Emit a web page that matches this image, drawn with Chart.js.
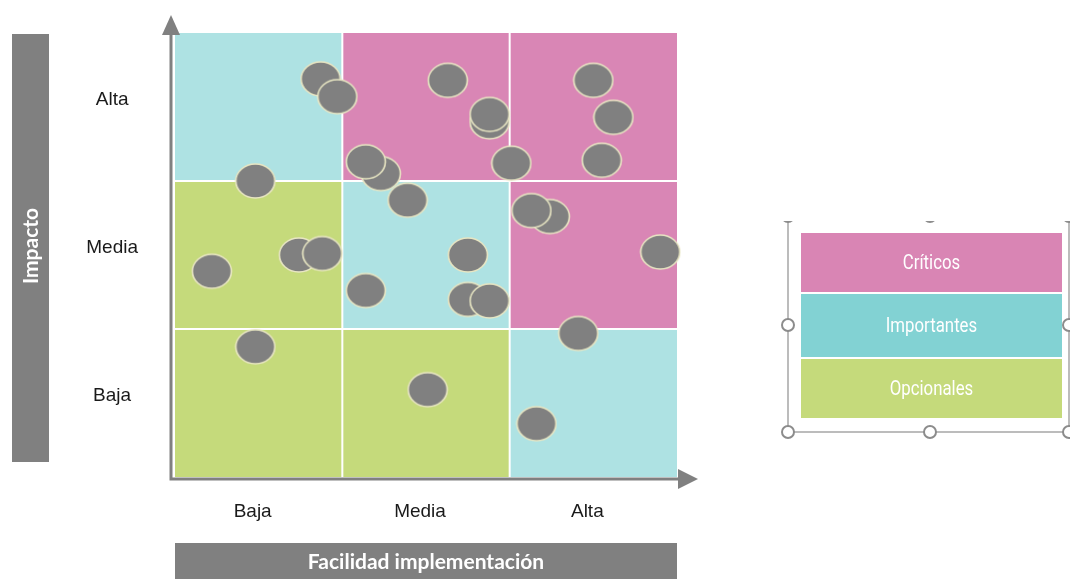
<!DOCTYPE html>
<html>
<head>
<meta charset="utf-8">
<script src="https://cdn.jsdelivr.net/npm/chart.js@4.4.1/dist/chart.umd.min.js"></script>
<style>
html, body { margin: 0; padding: 0; background: #fff; }
#wrap { width: 1070px; height: 579px; }
</style>
</head>
<body>
<div id="wrap"><canvas id="chartMatriz" width="1070" height="579"></canvas></div>
<script>
var niveles = ['Baja', 'Media', 'Alta'],
    categorias = ['Críticos', 'Importantes', 'Opcionales'],
    // fila 0 = impacto Baja ... fila 2 = impacto Alta, columnas = facilidad Baja / Media / Alta
    celdas = [
        ['Opcionales', 'Opcionales', 'Importantes'],
        ['Opcionales', 'Importantes', 'Críticos'],
        ['Importantes', 'Críticos', 'Críticos']
    ],
    // posicion de cada iniciativa (0-3 en cada eje)
    facilidad = [0.87, 0.97, 1.63, 2.50, 1.88, 1.88, 2.62, 2.55, 2.01, 1.23, 1.14, 0.48, 1.39, 2.24, 2.13,
                 2.90, 1.75, 0.22, 0.74, 0.88, 1.14, 1.75, 1.88, 2.41, 0.48, 1.51, 2.16],
    impacto = [2.69, 2.57, 2.68, 2.68, 2.40, 2.45, 2.43, 2.14, 2.12, 2.05, 2.13, 2.00, 1.87, 1.76, 1.80,
               1.52, 1.50, 1.39, 1.50, 1.51, 1.26, 1.20, 1.19, 0.97, 0.88, 0.59, 0.36];

var colorCelda = { 'Críticos': '#d986b5', 'Importantes': '#aee2e3', 'Opcionales': '#c5da7b' },
    colorLeyenda = { 'Críticos': '#d985b4', 'Importantes': '#82d2d3', 'Opcionales': '#c5da7b' },
    gris = '#808080';

// la burbuja es una elipse, se pasa como imagen al pointStyle
function crearBurbuja() {
    var c = document.createElement('canvas');
    c.width = 42;
    c.height = 38;
    var g = c.getContext('2d');
    g.beginPath();
    g.ellipse(21, 19, 19.5, 17, 0, 0, Math.PI * 2);
    g.fillStyle = gris;
    g.fill();
    g.lineWidth = 1.6;
    g.strokeStyle = '#e8e6c3';
    g.stroke();
    return c;
}

var pluginMatriz = {
    id: 'matriz',
    beforeDatasetsDraw: function (chart) {
        var ctx = chart.ctx, sx = chart.scales.x, sy = chart.scales.y;
        ctx.save();
        celdas.forEach(function (fila, r) {
            fila.forEach(function (cat, c) {
                var x0 = sx.getPixelForValue(c), x1 = sx.getPixelForValue(c + 1),
                    y0 = sy.getPixelForValue(r + 1), y1 = sy.getPixelForValue(r);
                ctx.fillStyle = colorCelda[cat];
                ctx.fillRect(x0, y0, x1 - x0, y1 - y0);
            });
        });
        // separaciones blancas
        ctx.strokeStyle = '#ffffff';
        ctx.lineWidth = 2;
        for (var i = 1; i < niveles.length; i++) {
            ctx.beginPath();
            ctx.moveTo(sx.getPixelForValue(i), sy.getPixelForValue(3));
            ctx.lineTo(sx.getPixelForValue(i), sy.getPixelForValue(0));
            ctx.moveTo(sx.getPixelForValue(0), sy.getPixelForValue(i));
            ctx.lineTo(sx.getPixelForValue(3), sy.getPixelForValue(i));
            ctx.stroke();
        }
        ctx.restore();
    },
    afterDraw: function (chart) {
        var ctx = chart.ctx, a = chart.chartArea;
        ctx.save();

        // ejes con flecha
        var ejeX = a.left - 4, ejeY = a.bottom + 2;
        ctx.strokeStyle = gris;
        ctx.fillStyle = gris;
        ctx.lineWidth = 3;
        ctx.beginPath();
        ctx.moveTo(ejeX, ejeY + 1.5);
        ctx.lineTo(ejeX, 30);
        ctx.moveTo(ejeX - 1.5, ejeY);
        ctx.lineTo(a.right + 2, ejeY);
        ctx.stroke();
        ctx.beginPath();
        ctx.moveTo(ejeX, 15);
        ctx.lineTo(ejeX - 9, 35);
        ctx.lineTo(ejeX + 9, 35);
        ctx.closePath();
        ctx.fill();
        ctx.beginPath();
        ctx.moveTo(a.right + 21, ejeY);
        ctx.lineTo(a.right + 1, ejeY - 10);
        ctx.lineTo(a.right + 1, ejeY + 10);
        ctx.closePath();
        ctx.fill();

        // titulos en barras grises
        ctx.fillRect(12, 34, 37, 428);
        ctx.fillRect(a.left, 543, a.right - a.left, 40);
        ctx.fillStyle = '#ffffff';
        ctx.font = 'bold 21px Lato, "DejaVu Sans", sans-serif';
        ctx.textAlign = 'center';
        ctx.textBaseline = 'middle';
        ctx.fillText('Facilidad implementación', (a.left + a.right) / 2, 562);
        ctx.save();
        ctx.translate(31, 246);
        ctx.rotate(-Math.PI / 2);
        ctx.fillText('Impacto', 0, 0);
        ctx.restore();

        // leyenda (texto estrecho, se comprime en horizontal)
        var lx = 801, lw = 261, filas = [[233, 59], [294, 63], [359, 59]];
        ctx.font = '21px Roboto, "Noto Sans", sans-serif';
        categorias.forEach(function (cat, i) {
            ctx.fillStyle = colorLeyenda[cat];
            ctx.fillRect(lx, filas[i][0], lw, filas[i][1]);
            ctx.fillStyle = '#ffffff';
            ctx.save();
            ctx.translate(lx + lw / 2, filas[i][0] + filas[i][1] / 2 + 1);
            ctx.scale(0.8, 1);
            ctx.fillText(cat, 0, 0);
            ctx.restore();
        });

        // marco de seleccion con sus tiradores
        ctx.beginPath();
        ctx.rect(0, 221, chart.width, chart.height - 221);
        ctx.clip();
        ctx.strokeStyle = '#a6a6a6';
        ctx.lineWidth = 1.5;
        ctx.beginPath();
        ctx.moveTo(788, 210);
        ctx.lineTo(788, 432);
        ctx.lineTo(1070, 432);
        ctx.moveTo(1069, 210);
        ctx.lineTo(1069, 432);
        ctx.stroke();
        [[788, 216], [930, 216], [1069, 216], [788, 325], [1069, 325], [788, 432], [930, 432], [1069, 432]].forEach(function (p) {
            ctx.beginPath();
            ctx.arc(p[0], p[1], 6, 0, Math.PI * 2);
            ctx.fillStyle = '#ffffff';
            ctx.fill();
            ctx.strokeStyle = '#8c8c8c';
            ctx.lineWidth = 2;
            ctx.stroke();
        });
        ctx.restore();
    }
};

var fuenteTicks = { family: '"Liberation Sans", Arial, sans-serif', size: 19 };

function ticksCentrados(s) {
    s.ticks = [0.5, 1.5, 2.5].map(function (v) { return { value: v }; });
}

var chartMatriz = new Chart(document.getElementById('chartMatriz'), {
    type: 'scatter',
    data: {
        datasets: [{
            data: facilidad.map(function (x, i) { return { x: x, y: impacto[i] }; }),
            pointStyle: crearBurbuja(),
            pointRadius: 19,
            clip: false
        }]
    },
    options: {
        responsive: false,
        animation: false,
        events: [],
        layout: { padding: { left: 0, top: 33, right: 393, bottom: 0 } },
        plugins: { legend: { display: false }, tooltip: { enabled: false } },
        scales: {
            x: {
                type: 'linear', min: 0, max: 3,
                grid: { display: false, drawTicks: false },
                border: { display: false },
                afterBuildTicks: ticksCentrados,
                afterFit: function (s) { s.height = 102; s.paddingLeft = 0; s.paddingRight = 0; },
                ticks: {
                    callback: function (v, i) { return niveles[i]; },
                    padding: 23, labelOffset: -6, maxRotation: 0, autoSkip: false,
                    font: fuenteTicks, color: '#1a1a1a'
                }
            },
            y: {
                type: 'linear', min: 0, max: 3,
                grid: { display: false, drawTicks: false },
                border: { display: false },
                afterBuildTicks: ticksCentrados,
                afterFit: function (s) { s.width = 175; s.paddingTop = 0; s.paddingBottom = 0; },
                ticks: {
                    callback: function (v, i) { return niveles[i]; },
                    padding: 37, labelOffset: -7, crossAlign: 'center', autoSkip: false,
                    font: fuenteTicks, color: '#1a1a1a'
                }
            }
        }
    },
    plugins: [pluginMatriz]
});
</script>
</body>
</html>
